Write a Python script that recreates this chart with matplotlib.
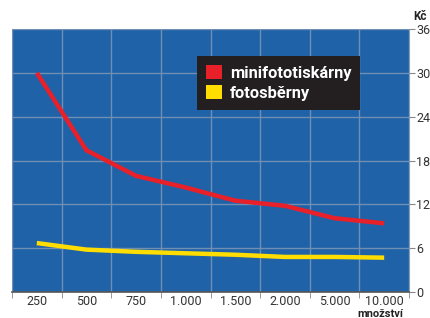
import matplotlib
matplotlib.use("Agg")
import matplotlib.pyplot as plt
from matplotlib.patches import Patch
import numpy as np

categories = ["250", "500", "750", "1.000", "1.500", "2.000", "5.000", "10.000"]
minifototiskarny = [30.0, 19.4, 15.9, 14.3, 12.5, 11.8, 10.1, 9.4]
fotosberny = [6.7, 5.8, 5.5, 5.3, 5.1, 4.8, 4.8, 4.7]
yticks = [0, 6, 12, 18, 24, 30, 36]

plt.rcParams['font.family'] = ['Roboto', 'DejaVu Sans']

fig = plt.figure(figsize=(4.3, 3.18), dpi=100)
ax = fig.add_axes([12/430, 26/318, 397/430, 263/318])
ax.set_facecolor('#1f62a8')

x = np.arange(len(categories))
ax.plot(x, minifototiskarny, color='#e8202a', lw=3.2, solid_capstyle='butt', zorder=3)
ax.plot(x, fotosberny, color='#ffdd00', lw=3.2, solid_capstyle='butt', zorder=3)

ax.set_xlim(-0.5, len(categories) - 0.5)
ax.set_ylim(0, 36)
ax.set_xticks(x)
ax.set_xticklabels(categories, fontsize=9, color='#333333')
ax.set_xticks(np.arange(-0.5, len(categories), 1), minor=True)
ax.tick_params(axis='x', which='major', length=0, pad=2.5)
ax.tick_params(axis='x', which='minor', length=4, color='#888888', direction='out')

ax.yaxis.tick_right()
ax.set_yticks(yticks)
ax.set_yticklabels([str(v) for v in yticks], fontsize=9, color='#333333')
ax.tick_params(axis='y', length=4, color='#888888', pad=1)

ax.grid(True, which='minor', axis='x', color='#6f8fb3', lw=1)
ax.grid(True, which='major', axis='y', color='#6f8fb3', lw=1)
ax.set_axisbelow(True)

for s in ['top', 'left']:
    ax.spines[s].set_visible(False)
ax.spines['right'].set_color('#7f9fc0')
ax.spines['bottom'].set_color('#555555')
ax.spines['bottom'].set_linewidth(1.2)

handles = [Patch(facecolor='#e8202a', edgecolor='none', label='minifototiskárny'),
           Patch(facecolor='#ffdd00', edgecolor='none', label='fotosběrny')]
leg = ax.legend(handles=handles, loc='upper left', bbox_to_anchor=((197-12)/397, (292-56)/263),
                borderaxespad=0, frameon=True, fancybox=False, facecolor='#231f20',
                edgecolor='#231f20', framealpha=1, handlelength=0.95, handleheight=0.95,
                handletextpad=0.5, borderpad=0.55, labelspacing=0.25,
                prop={'size': 11.8, 'weight': 'bold'})
leg.get_frame().set_linewidth(0)
for t in leg.get_texts():
    t.set_color('white')

fig.text(420/430, 1 - 17/318, 'Kč', ha='center', va='center', fontsize=8.5, fontweight='bold', color='#222222')
fig.text(380/430, 1 - 314/318, 'množství', ha='center', va='center', fontsize=8, fontweight='bold', color='#222222')

fig.savefig('out.png', dpi=100)
